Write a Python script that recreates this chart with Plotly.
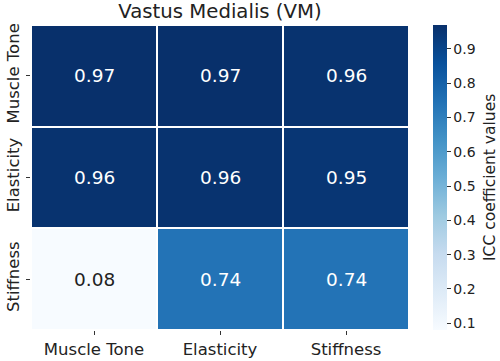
import plotly.graph_objects as go

categories = ["Muscle Tone", "Elasticity", "Stiffness"]
rows = ["Muscle Tone", "Elasticity", "Stiffness"]
values = [
    [0.97, 0.97, 0.96],
    [0.96, 0.96, 0.95],
    [0.08, 0.74, 0.74],
]
cbar_ticks = [0.1, 0.2, 0.3, 0.4, 0.5, 0.6, 0.7, 0.8, 0.9]
cbar_title = "ICC coefficient values"

blues = ["#f7fbff", "#deebf7", "#c6dbef", "#9ecae1", "#6baed6",
         "#4292c6", "#2171b5", "#08519c", "#08306b"]
colorscale = [[i / (len(blues) - 1), c] for i, c in enumerate(blues)]

zmin = min(min(r) for r in values)
zmax = max(max(r) for r in values)

L, R, T, B = 31, 91, 25, 31
W, H = 500, 361
pw = W - L - R

fig = go.Figure(go.Heatmap(
    z=values, x=categories, y=rows,
    colorscale=colorscale, zmin=zmin, zmax=zmax,
    xgap=2, ygap=2,
    colorbar=dict(
        x=(433 - L) / pw, xanchor="left", xpad=0, ypad=0,
        y=0.5, yanchor="middle", len=1.0, lenmode="fraction",
        thickness=14, outlinewidth=0,
        tickvals=cbar_ticks, ticktext=[f"{t:.1f}" for t in cbar_ticks],
        ticks="outside", ticklen=4, tickcolor="#333",
        tickfont=dict(family="DejaVu Sans", size=14, color="#222"),
    ),
    hoverinfo="skip",
))

annotations = []
mid = (zmin + zmax) / 2
for i, r in enumerate(rows):
    for j, c in enumerate(categories):
        v = values[i][j]
        annotations.append(dict(
            x=c, y=r, text=f"{v:.2f}", showarrow=False,
            font=dict(family="DejaVu Sans", size=18.5,
                      color="white" if v > mid * 0.9 else "#222"),
        ))

annotations.append(dict(
    x=(489.5 - L) / pw, y=0.5, xref="paper", yref="paper",
    xanchor="center", yanchor="middle", textangle=-90,
    text=cbar_title, showarrow=False,
    font=dict(family="DejaVu Sans", size=15.5, color="#222"),
))

fig.update_layout(
    width=W, height=H,
    margin=dict(l=L, r=R, t=T, b=B, autoexpand=False),
    paper_bgcolor="white", plot_bgcolor="white",
    title=dict(text="Vastus Medialis (VM)", x=0.5, xref="paper", xanchor="center",
               y=1 - 11.5 / H, yanchor="middle",
               font=dict(family="DejaVu Sans", size=19.7, color="#222")),
    annotations=annotations,
    xaxis=dict(ticks="outside", ticklen=4, tickcolor="#333", showgrid=False,
               zeroline=False, automargin=False,
               tickfont=dict(family="DejaVu Sans", size=16.5, color="#222")),
    yaxis=dict(ticks="outside", ticklen=4, tickcolor="#333", showgrid=False,
               zeroline=False, autorange="reversed", tickangle=-90, automargin=False,
               tickfont=dict(family="DejaVu Sans", size=16.5, color="#222")),
)

fig.write_html("out.html",
               config={"displayModeBar": False},
               post_script="document.body.style.margin='0';document.body.style.overflow='hidden';")
